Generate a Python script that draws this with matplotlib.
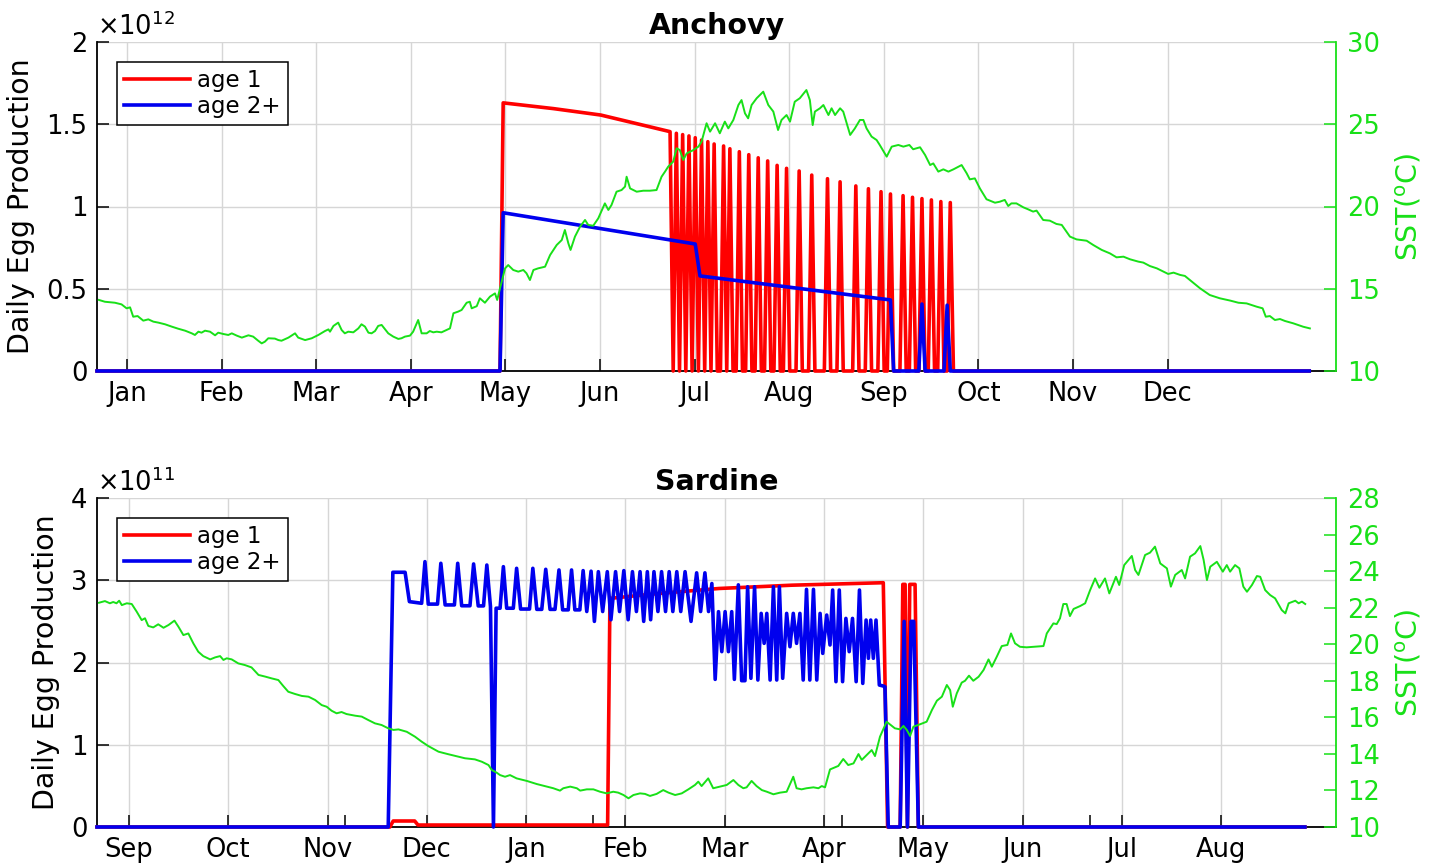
import matplotlib
matplotlib.use('Agg')
import matplotlib.pyplot as plt
from matplotlib.ticker import FixedLocator
from matplotlib.lines import Line2D

plt.rcParams['font.family'] = ['DejaVu Sans']
plt.rcParams['mathtext.fontset'] = 'dejavusans'

# ---------------- DATA ----------------
anch_months = ['Jan', 'Feb', 'Mar', 'Apr', 'May', 'Jun', 'Jul', 'Aug', 'Sep', 'Oct', 'Nov', 'Dec']
sard_months = ['Sep', 'Oct', 'Nov', 'Dec', 'Jan', 'Feb', 'Mar', 'Apr', 'May', 'Jun', 'Jul', 'Aug']

# Anchovy, age 1 (units of 1e12 eggs/day): continuous part then daily spikes
anch_a1_day = [0, 128, 129, 145, 160, 182, 183]
anch_a1_val = [0, 0, 1.63, 1.595, 1.556, 1.455, 0]
anch_a1_spike_day = [184, 186, 188, 190, 192, 194, 196, 199, 201, 204, 207, 210, 213, 216, 219,
                     223, 227, 232, 236, 241, 245, 249, 252, 256, 259, 262, 265, 268, 271]
anch_a1_spike_val = [1.445, 1.437, 1.429, 1.418, 1.404, 1.394, 1.380, 1.368, 1.351, 1.333, 1.315,
                     1.296, 1.277, 1.250, 1.232, 1.216, 1.191, 1.169, 1.150, 1.125, 1.108, 1.090,
                     1.076, 1.066, 1.056, 1.048, 1.040, 1.030, 1.024]
anch_end_day = 385

# Anchovy, age 2+ (1e12)
anch_a2_day = [0, 128, 129, 190, 191.5, 252, 253, 261, 262, 263, 269, 270, 271, 385]
anch_a2_val = [0, 0, 0.962, 0.772, 0.578, 0.432, 0, 0, 0.407, 0, 0, 0.40, 0, 0]

# Anchovy SST (day, degC)
anch_sst = [
    (0.6, 14.32), (2.5, 14.21), (5.7, 14.15), (7.8, 14.05), (9.4, 13.81), (10.5, 13.87), (11.5, 13.30),
    (12.9, 13.34), (14.7, 13.06), (16.3, 13.14), (17.9, 13.00), (19.5, 12.94), (21.6, 12.84), (23.7, 12.70),
    (25.8, 12.57), (28.0, 12.45), (30.1, 12.29), (31.1, 12.19), (32.2, 12.39), (33.2, 12.33), (34.3, 12.45),
    (35.9, 12.39), (37.5, 12.17), (38.5, 12.33), (40.1, 12.25), (41.7, 12.19), (42.8, 12.29), (44.4, 12.15),
    (46.0, 12.03), (48.1, 12.17), (49.6, 12.09), (51.2, 11.84), (52.3, 11.68), (53.3, 11.78), (54.4, 11.99),
    (56.5, 11.97), (57.6, 11.88), (58.6, 11.84), (60.8, 12.03), (62.9, 12.29), (63.9, 12.03), (66.1, 11.88),
    (68.2, 11.99), (70.3, 12.19), (72.4, 12.43), (73.5, 12.53), (74.0, 12.39), (75.1, 12.74), (76.6, 12.94),
    (77.7, 12.49), (78.7, 12.29), (79.8, 12.39), (81.4, 12.35), (83.0, 12.59), (84.0, 12.84), (85.1, 12.70),
    (86.2, 12.33), (87.2, 12.29), (88.3, 12.43), (89.3, 12.74), (90.4, 12.80), (91.5, 12.53), (92.5, 12.29),
    (94.1, 12.09), (95.7, 11.95), (96.7, 11.99), (97.8, 12.09), (99.4, 12.15), (100.4, 12.39), (102.0, 13.10),
    (103.1, 12.29), (104.7, 12.29), (105.7, 12.43), (106.8, 12.35), (107.9, 12.39), (109.4, 12.35),
    (111.0, 12.49), (112.1, 12.59), (113.2, 13.51), (114.7, 13.61), (115.8, 13.71), (117.4, 14.15),
    (118.4, 14.21), (119.0, 13.81), (120.6, 13.94), (121.6, 14.42), (123.2, 14.15), (124.8, 14.52),
    (126.4, 14.72), (127.1, 14.32), (128.0, 15.03), (129.6, 16.24), (130.6, 16.44), (132.2, 16.14),
    (133.8, 16.04), (135.4, 16.14), (136.4, 15.94), (137.5, 15.53), (138.6, 16.14), (140.1, 16.24),
    (142.3, 16.34), (143.9, 17.05), (146.0, 17.66), (147.6, 17.96), (148.6, 18.57), (149.7, 17.76),
    (150.4, 17.36), (151.8, 18.17), (153.4, 18.77), (155.0, 19.18), (156.0, 18.88), (157.6, 18.83),
    (159.2, 19.28), (161.3, 20.19), (162.4, 19.79), (163.4, 20.09), (165.0, 20.90), (166.6, 21.00),
    (167.7, 21.21), (168.2, 21.81), (169.3, 21.10), (171.4, 20.90), (173.5, 20.96), (175.6, 20.96),
    (177.7, 21.00), (179.3, 21.81), (180.4, 22.12), (181.4, 22.42), (183.0, 22.73), (184.1, 23.54),
    (185.1, 23.43), (186.2, 22.83), (187.3, 23.23), (189.4, 23.43), (191.0, 23.64), (192.0, 23.94),
    (193.6, 25.06), (194.7, 24.55), (196.3, 25.06), (197.8, 24.45), (199.4, 25.16), (200.5, 24.75),
    (202.1, 25.26), (203.7, 26.17), (204.7, 26.47), (205.8, 25.66), (206.8, 25.36), (207.9, 26.17),
    (209.5, 26.58), (211.6, 26.98), (213.2, 26.17), (214.8, 25.77), (216.3, 24.65), (217.4, 25.26),
    (219.0, 25.56), (220.1, 25.16), (221.6, 26.37), (223.2, 26.58), (225.3, 27.08), (226.4, 26.47),
    (227.3, 24.95), (228.0, 25.77), (229.6, 25.97), (230.7, 26.17), (232.3, 25.56), (233.3, 25.97),
    (234.4, 25.56), (236.0, 25.97), (237.0, 25.77), (239.2, 24.35), (240.7, 24.75), (242.3, 25.26),
    (243.4, 25.26), (244.4, 24.75), (246.0, 24.25), (247.6, 24.04), (248.6, 23.74), (250.8, 23.03),
    (252.4, 23.64), (254.5, 23.74), (256.1, 23.64), (258.0, 23.74), (259.2, 23.48), (261.4, 23.60),
    (263.0, 23.13), (264.6, 22.52), (265.6, 22.62), (267.2, 22.12), (268.8, 22.26), (270.4, 22.12),
    (272.0, 22.26), (274.6, 22.52), (276.2, 22.02), (277.2, 21.65), (278.8, 21.71), (280.4, 21.10),
    (282.5, 20.44), (285.2, 20.23), (286.7, 20.29), (288.3, 20.40), (289.4, 20.03), (290.4, 20.19),
    (292.0, 20.19), (294.2, 19.95), (295.7, 19.83), (297.3, 19.69), (298.4, 19.75), (300.5, 19.18),
    (302.6, 19.14), (304.7, 18.94), (306.4, 18.88), (309.0, 18.17), (311.1, 18.00), (314.3, 17.92),
    (316.4, 17.66), (319.1, 17.36), (321.7, 17.15), (323.8, 16.91), (326.0, 16.95), (328.1, 16.79),
    (330.7, 16.65), (332.3, 16.59), (334.4, 16.38), (336.6, 16.24), (338.7, 16.04), (340.2, 15.90),
    (341.9, 15.98), (344.0, 15.84), (345.5, 15.78), (347.1, 15.53), (350.3, 15.03), (353.4, 14.62),
    (356.6, 14.42), (359.9, 14.28), (362.5, 14.15), (365.1, 14.11), (368.3, 13.91), (370.2, 13.81),
    (371.2, 13.30), (372.5, 13.34), (374.1, 13.10), (375.7, 13.16), (377.3, 13.04), (379.9, 12.90),
    (383.1, 12.69), (385.2, 12.59)]

# Sardine, age 1 (units of 1e11 eggs/day)
sard_a1_day = [0, 88.5, 89.5, 96.0, 97.0, 154.3, 155.0, 170, 188, 210, 237.6, 238.9,
               242.7, 243.5, 244.2, 244.9, 245.6, 247.2, 248.2, 365]
sard_a1_val = [0, 0, 0.073, 0.073, 0.024, 0.024, 2.78, 2.84, 2.90, 2.94, 2.97, 0,
               0, 2.95, 2.95, 0, 2.95, 2.95, 0, 0]

# Sardine, age 2+ (1e11)
sard_a2 = [
    (0, 0), (88.0, 0), (89.4, 3.097), (93.1, 3.097), (94.4, 2.74), (98.1, 2.72), (99.1, 3.226),
    (100.1, 2.71), (102.9, 2.71), (103.9, 3.206), (105.2, 2.70), (108.0, 2.70), (109.0, 3.206),
    (110.2, 2.69), (112.7, 2.69), (113.8, 3.198), (115.2, 2.688), (116.8, 2.688), (117.8, 3.185),
    (118.9, 2.68), (119.8, 0), (120.6, 2.66), (121.8, 2.66), (122.8, 3.165), (123.8, 2.66),
    (125.8, 2.66), (126.8, 3.145), (128.0, 2.65), (130.7, 2.65), (131.7, 3.145), (132.9, 2.646),
    (134.4, 2.646), (135.6, 3.133), (136.9, 2.646), (138.4, 2.646), (139.6, 3.125), (140.7, 2.64),
    (142.4, 2.64), (143.4, 3.125), (144.4, 2.64), (145.9, 2.64), (146.9, 3.117), (148.0, 2.62),
    (149.3, 3.11), (150.3, 2.50), (151.5, 3.104), (152.8, 2.62), (154.2, 3.104), (155.3, 2.52),
    (156.7, 3.104), (157.9, 2.62), (159.2, 3.117), (160.5, 2.52), (161.8, 3.104), (163.0, 2.62),
    (164.1, 3.104), (165.2, 2.50), (166.3, 3.104), (167.3, 2.52), (168.3, 3.104), (169.5, 2.62),
    (170.6, 3.104), (171.8, 2.62), (172.9, 3.104), (174.0, 2.62), (175.2, 3.104), (176.4, 2.62),
    (177.7, 3.104), (179.5, 2.50), (181.2, 3.09), (182.4, 2.62), (183.7, 3.09), (184.8, 2.62),
    (185.8, 2.96), (186.8, 1.795), (187.8, 2.618), (188.8, 2.132), (189.8, 2.618), (190.8, 2.132),
    (191.8, 2.618), (192.6, 1.795), (193.8, 2.944), (194.8, 1.779), (195.8, 1.779), (196.6, 2.921),
    (197.6, 1.808), (198.7, 2.921), (199.7, 1.787), (200.7, 2.597), (201.6, 2.233), (202.4, 2.597),
    (203.4, 1.787), (204.4, 2.921), (205.4, 1.787), (206.2, 2.921), (207.2, 1.808), (208.4, 2.597),
    (209.4, 2.192), (210.4, 2.597), (211.4, 2.233), (212.4, 2.597), (213.4, 1.787), (214.4, 2.889),
    (215.4, 1.787), (216.5, 2.889), (217.5, 1.787), (218.5, 2.597), (219.3, 2.111), (220.5, 2.577),
    (221.5, 2.213), (222.3, 2.881), (223.3, 1.767), (224.3, 2.881), (225.3, 1.767), (226.3, 2.536),
    (227.3, 2.132), (228.3, 2.536), (229.4, 1.767), (230.4, 2.881), (231.4, 1.746), (232.4, 2.516),
    (233.1, 2.051), (233.8, 2.516), (234.6, 2.051), (235.4, 2.516), (236.4, 1.726), (237.6, 1.714),
    (238.1, 1.706), (239.1, 0), (242.7, 0), (243.9, 2.50), (244.9, 0), (246.0, 2.50), (246.8, 2.50),
    (248.2, 0), (365, 0)]

# Sardine SST (day, degC)
sard_sst = [
    (0.6, 22.27), (2.4, 22.36), (3.9, 22.24), (4.9, 22.31), (5.9, 22.24), (6.7, 22.38), (7.5, 22.14),
    (9.0, 22.24), (10.5, 22.20), (12.0, 21.78), (13.5, 21.32), (14.5, 21.42), (15.5, 21.00), (17.0, 20.92),
    (18.5, 21.09), (20.1, 20.90), (21.6, 21.05), (23.4, 21.29), (24.6, 20.96), (26.1, 20.50), (27.6, 20.59),
    (29.1, 20.05), (30.6, 19.59), (32.1, 19.35), (34.2, 19.17), (35.7, 19.28), (37.2, 19.35), (38.2, 19.14),
    (39.2, 19.23), (40.7, 19.17), (42.7, 18.95), (44.7, 18.86), (46.7, 18.73), (48.8, 18.32), (50.8, 18.23),
    (52.8, 18.13), (54.8, 18.04), (56.3, 17.71), (57.8, 17.40), (59.8, 17.28), (61.9, 17.17), (63.9, 17.13),
    (65.9, 16.95), (67.9, 16.67), (69.4, 16.58), (70.9, 16.36), (72.4, 16.22), (73.9, 16.29), (75.4, 16.18),
    (78.0, 16.09), (80.0, 16.04), (82.0, 15.85), (84.0, 15.67), (86.0, 15.58), (88.0, 15.40), (89.6, 15.31),
    (91.1, 15.34), (93.6, 15.21), (96.1, 14.94), (98.1, 14.67), (100.1, 14.43), (103.2, 14.12),
    (106.2, 13.98), (109.2, 13.85), (111.2, 13.76), (114.2, 13.70), (116.3, 13.57), (118.3, 13.39),
    (119.3, 13.12), (120.8, 12.97), (121.8, 12.84), (123.3, 12.75), (124.8, 12.84), (126.8, 12.66),
    (129.9, 12.52), (132.9, 12.35), (135.9, 12.21), (137.9, 12.12), (139.9, 11.99), (140.9, 12.12),
    (143.0, 12.21), (145.0, 12.12), (146.0, 11.99), (148.0, 12.06), (150.0, 12.06), (152.0, 11.93),
    (154.0, 11.84), (156.0, 11.93), (157.5, 11.88), (159.1, 11.75), (160.6, 11.57), (162.1, 11.75),
    (164.1, 11.84), (165.6, 11.81), (167.1, 11.70), (169.1, 11.81), (171.1, 12.02), (172.7, 11.88),
    (174.7, 11.75), (176.7, 11.84), (178.7, 12.06), (180.7, 12.30), (181.7, 12.48), (182.7, 12.24),
    (184.7, 12.66), (186.2, 12.12), (188.3, 12.21), (190.3, 12.30), (192.3, 12.57), (193.8, 12.30),
    (195.3, 12.12), (196.3, 12.17), (197.8, 12.52), (199.3, 12.24), (200.9, 12.02), (202.4, 11.93),
    (204.4, 11.79), (206.4, 11.88), (208.4, 11.93), (210.4, 12.75), (211.4, 12.12), (212.9, 12.06),
    (214.4, 12.12), (216.5, 12.17), (218.0, 12.12), (219.0, 12.24), (220.0, 12.17), (221.5, 13.15),
    (224.0, 13.34), (225.5, 13.72), (227.0, 13.39), (228.6, 13.48), (230.1, 13.99), (231.1, 13.67),
    (232.6, 13.94), (234.1, 14.21), (235.1, 13.88), (236.6, 14.94), (238.6, 15.76), (241.1, 15.40),
    (242.7, 15.34), (243.7, 15.53), (244.7, 15.31), (245.7, 14.98), (246.7, 15.49), (248.7, 15.62),
    (250.7, 15.76), (252.3, 16.40), (253.8, 16.91), (255.3, 17.13), (256.8, 17.77), (257.8, 17.49),
    (258.6, 16.58), (259.8, 17.31), (261.3, 17.90), (262.3, 18.00), (263.5, 18.28), (264.8, 18.00),
    (266.4, 18.22), (267.9, 18.59), (269.4, 19.17), (270.4, 18.77), (271.9, 19.32), (273.4, 19.90),
    (275.1, 19.96), (276.2, 20.59), (277.4, 20.05), (278.9, 19.86), (280.9, 19.83), (283.0, 19.86),
    (286.0, 19.90), (287.0, 20.59), (289.0, 21.14), (290.0, 21.10), (291.0, 21.42), (292.0, 22.20),
    (293.0, 22.20), (294.0, 21.54), (295.1, 21.93), (297.1, 22.09), (298.6, 22.24), (300.1, 22.96),
    (301.6, 23.60), (302.9, 23.09), (304.6, 23.60), (305.9, 22.78), (307.1, 23.33), (307.9, 23.69),
    (308.9, 23.24), (310.4, 24.33), (312.7, 24.83), (313.7, 24.06), (314.7, 23.79), (316.7, 24.88),
    (318.2, 25.01), (319.7, 25.34), (321.3, 24.42), (323.3, 24.15), (324.5, 23.15), (325.8, 23.79),
    (327.8, 24.06), (328.8, 23.60), (330.3, 24.79), (331.8, 24.97), (333.4, 25.37), (334.4, 24.61),
    (335.4, 23.51), (336.4, 24.24), (338.4, 24.51), (340.2, 23.97), (341.4, 24.33), (342.4, 23.97),
    (343.9, 24.33), (345.2, 24.15), (346.4, 23.15), (347.5, 22.87), (349.0, 23.24), (350.5, 23.73),
    (351.5, 23.69), (353.0, 22.96), (354.5, 22.69), (356.0, 22.51), (358.0, 21.87), (359.1, 21.69),
    (360.1, 22.24), (362.1, 22.38), (363.1, 22.24), (364.1, 22.33), (365.1, 22.20)]

# ---------------- STYLE ----------------
RED = '#ff0000'
BLUE = '#0000ee'
GREEN = '#18e018'
GRID = '#d6d6d6'
TICK_FS = 18.5
LABEL_FS = 20.5
LW_EGG = 2.6
LW_SST = 1.4
TICKLEN = 8.6


def build_spikes(days, vals, peak_days, peak_vals, end_day):
    xs, ys = list(days), list(vals)
    for p, h in zip(peak_days, peak_vals):
        if xs[-1] < p - 1:
            xs.append(p - 1)
            ys.append(0.0)
        xs.append(p)
        ys.append(h)
        xs.append(p + 1)
        ys.append(0.0)
    xs.append(end_day)
    ys.append(0.0)
    return xs, ys


fig = plt.figure(figsize=(14.38, 8.67), dpi=100)
W, H = 1438.0, 867.0
ax_top = fig.add_axes([97 / W, 1 - 371 / H, 1239 / W, 329 / H])
ax_bot = fig.add_axes([97 / W, 1 - 827 / H, 1239 / W, 329 / H])


def setup(ax, xmax, tick0, tickstep, labels, ymax, yticks, ylabels, title, exponent,
          sst_lim, sst_ticks, minor_ticks=None):
    ax.set_xlim(0, xmax)
    ax.set_ylim(0, ymax)
    ax.xaxis.set_major_locator(FixedLocator([tick0 + tickstep * k for k in range(len(labels))]))
    ax.set_xticklabels(labels)
    ax.set_yticks(yticks)
    ax.set_yticklabels(ylabels)
    if minor_ticks is not None:
        ax.xaxis.set_minor_locator(FixedLocator(minor_ticks))
        ax.tick_params(axis='x', which='minor', direction='in', length=TICKLEN, width=1.1,
                       labelbottom=False)
    ax.tick_params(axis='both', which='major', direction='in', length=TICKLEN, width=1.1,
                   labelsize=TICK_FS, pad=7, colors='black')
    ax.grid(True, which='major', color=GRID, linewidth=1.0)
    ax.set_axisbelow(True)
    for s in ['top', 'right']:
        ax.spines[s].set_visible(False)
    for s in ['left', 'bottom']:
        ax.spines[s].set_linewidth(1.3)
    ax.set_ylabel('Daily Egg Production', fontsize=LABEL_FS, labelpad=8)
    ax.set_title(title, fontsize=LABEL_FS, fontweight='bold', pad=6)
    ax.text(0.0, 1.004, exponent, transform=ax.transAxes, ha='left', va='bottom',
            fontsize=TICK_FS)
    tw = ax.twinx()
    tw.set_ylim(*sst_lim)
    tw.set_yticks(sst_ticks)
    tw.set_yticklabels([str(t) for t in sst_ticks])
    tw.tick_params(axis='y', direction='in', length=TICKLEN, width=1.1, labelsize=TICK_FS,
                   colors=GREEN, pad=8)
    for s in ['top', 'left', 'bottom']:
        tw.spines[s].set_visible(False)
    tw.spines['right'].set_color(GREEN)
    tw.spines['right'].set_linewidth(1.3)
    tw.set_ylabel('SST($^{\\mathregular{o}}$C)', fontsize=LABEL_FS, color=GREEN, labelpad=10)
    return tw


tw_top = setup(ax_top, 393.5, 9.5, 30.05, anch_months, 2, [0, 0.5, 1, 1.5, 2],
               ['0', '0.5', '1', '1.5', '2'], 'Anchovy', r'$\times10^{12}$',
               (10, 30), [10, 15, 20, 25, 30])
tw_bot = setup(ax_bot, 374.4, 9.67, 30.0, sard_months, 4, [0, 1, 2, 3, 4],
               ['0', '1', '2', '3', '4'], 'Sardine', r'$\times10^{11}$',
               (10, 28), list(range(10, 29, 2)), minor_ticks=[75, 150, 225, 300])

# ---- Anchovy lines ----
x1, y1 = build_spikes(anch_a1_day, anch_a1_val, anch_a1_spike_day, anch_a1_spike_val, anch_end_day)
ax_top.plot(x1, y1, color=RED, lw=LW_EGG, clip_on=False, zorder=3)
ax_top.plot(anch_a2_day, anch_a2_val, color=BLUE, lw=LW_EGG, clip_on=False, zorder=4)
tw_top.plot([d for d, v in anch_sst], [v for d, v in anch_sst], color=GREEN, lw=LW_SST)

# ---- Sardine lines ----
ax_bot.plot(sard_a1_day, sard_a1_val, color=RED, lw=LW_EGG, clip_on=False, zorder=3)
ax_bot.plot([d for d, v in sard_a2], [v for d, v in sard_a2], color=BLUE, lw=LW_EGG,
            clip_on=False, zorder=4)
tw_bot.plot([d for d, v in sard_sst], [v for d, v in sard_sst], color=GREEN, lw=LW_SST)

# ---- Legends ----
handles = [Line2D([], [], color=RED, lw=LW_EGG), Line2D([], [], color=BLUE, lw=LW_EGG)]
for tw in (tw_top, tw_bot):
    leg = tw.legend(handles, ['age 1', 'age 2+'], loc='upper left',
                    bbox_to_anchor=(0.0161, 0.939), borderaxespad=0, fontsize=16.5,
                    handlelength=2.9, handletextpad=0.3, labelspacing=0.15,
                    borderpad=0.3, fancybox=False, framealpha=1, edgecolor='black')
    leg.get_frame().set_linewidth(1.1)

fig.savefig('out.png', dpi=100)
